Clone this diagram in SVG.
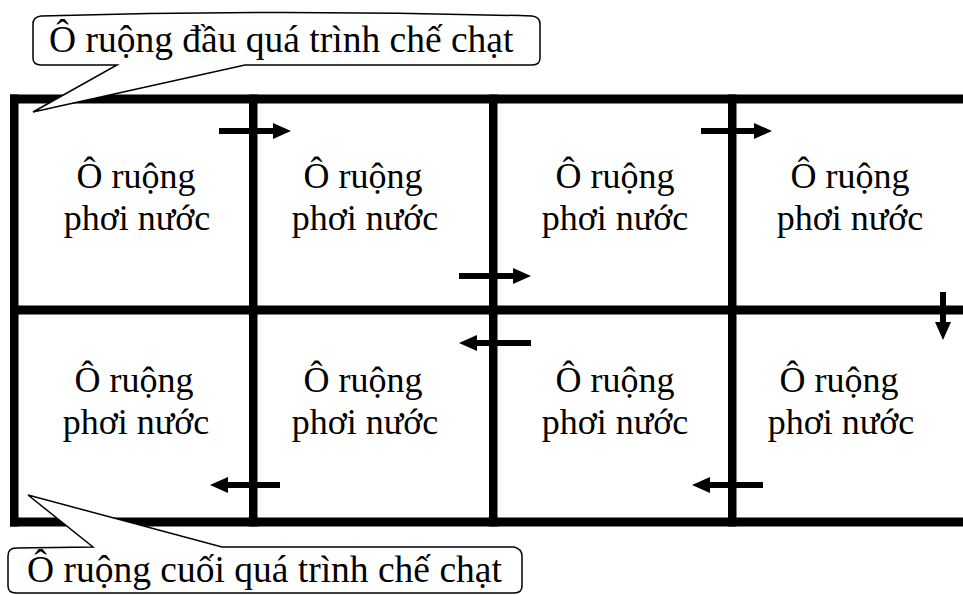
<svg xmlns="http://www.w3.org/2000/svg" width="963" height="595" viewBox="0 0 963 595">
<style>
  .t { font-family: "Liberation Serif", "Times New Roman", serif; font-size: 36px; fill: #000; }
  .big { font-size: 37.5px; }
  .c { text-anchor: middle; }
  .wall { fill: #000; }
  .call { fill: #fff; stroke: #000; stroke-width: 1.5; stroke-linejoin: miter; }
  .arr { fill: #000; }
</style>
<rect width="963" height="595" fill="#fff"/>

<g id="grid">
  <rect class="wall" x="10" y="94.5" width="953" height="9"/>
  <rect class="wall" x="10" y="305.5" width="953" height="9"/>
  <rect class="wall" x="10" y="517.5" width="953" height="9"/>
  <rect class="wall" x="10" y="94.5" width="8.5" height="432"/>
  <rect class="wall" x="249" y="94.5" width="8.5" height="432"/>
  <rect class="wall" x="489" y="94.5" width="8.5" height="432"/>
  <rect class="wall" x="728" y="94.5" width="8.5" height="432"/>
</g>

<g id="cell-r1c1"><text class="t c" x="136" y="188">Ô ruộng</text><text class="t c" x="137" y="230">phơi nước</text></g>
<g id="cell-r1c2"><text class="t c" x="363" y="188">Ô ruộng</text><text class="t c" x="365" y="230">phơi nước</text></g>
<g id="cell-r1c3"><text class="t c" x="615" y="188">Ô ruộng</text><text class="t c" x="615" y="230">phơi nước</text></g>
<g id="cell-r1c4"><text class="t c" x="850" y="188">Ô ruộng</text><text class="t c" x="850" y="230">phơi nước</text></g>
<g id="cell-r2c1"><text class="t c" x="134" y="392">Ô ruộng</text><text class="t c" x="136" y="434">phơi nước</text></g>
<g id="cell-r2c2"><text class="t c" x="363" y="392">Ô ruộng</text><text class="t c" x="365" y="434">phơi nước</text></g>
<g id="cell-r2c3"><text class="t c" x="615" y="392">Ô ruộng</text><text class="t c" x="615" y="434">phơi nước</text></g>
<g id="cell-r2c4"><text class="t c" x="839" y="392">Ô ruộng</text><text class="t c" x="841" y="434">phơi nước</text></g>

<g id="connectors">
  <path class="arr" d="M219,128 L273,128 L273,123 L291,131 L273,139 L273,134 L219,134 Z"/>
  <path class="arr" d="M701,128 L754,128 L754,123 L772,131 L754,139 L754,134 L701,134 Z"/>
  <path class="arr" d="M459,273 L513,273 L513,268 L531,276 L513,284 L513,279 L459,279 Z"/>
  <path class="arr" d="M940,292 L946,292 L946,322 L951,322 L943,340 L935,322 L940,322 Z"/>
  <path class="arr" d="M531,340 L477,340 L477,335 L459,343 L477,351 L477,346 L531,346 Z"/>
  <path class="arr" d="M763,482 L710,482 L710,477 L692,485 L710,493 L710,488 L763,488 Z"/>
  <path class="arr" d="M280,482 L228,482 L228,477 L210,485 L228,493 L228,488 L280,488 Z"/>
</g>

<g id="callout-top">
  <path class="call" d="M41,16 Q286,9 532,16 Q540,17 540,24 L540,58 Q540,65 532,65 L245,65 L33,112 L117,65 L41,65 Q33,65 33,58 L33,24 Q33,17 41,16 Z"/>
  <text class="t big" x="49" y="52">Ô ruộng đầu quá trình chế chạt</text>
</g>

<g id="callout-bottom">
  <path class="call" d="M16,548 L93,547 L28,495 L222,547 L514,547 Q522,549 522,556 L522,586 Q522,593 514,593 L16,593 Q8,593 8,586 L8,556 Q8,548 16,548 Z"/>
  <text class="t big" x="27" y="582">Ô ruộng cuối quá trình chế chạt</text>
</g>
</svg>
